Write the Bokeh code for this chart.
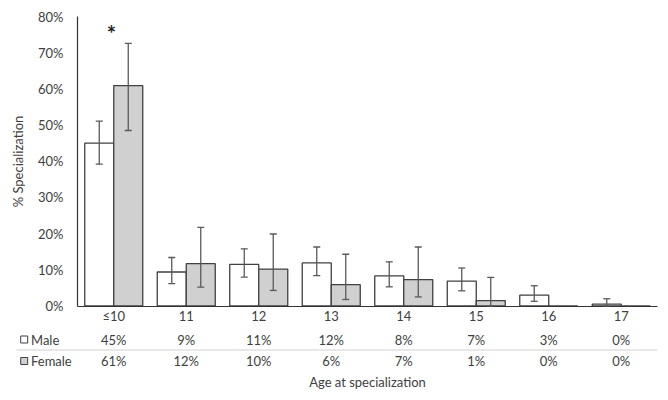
from bokeh.plotting import figure
from bokeh.models import (ColumnDataSource, Range1d, Whisker, TeeHead,
                          Label, FixedTicker, PrintfTickFormatter)
from bokeh.core.properties import value
from bokeh.embed import file_html
from bokeh.resources import INLINE

# ---- data ----
ages = ["≤10", "11", "12", "13", "14", "15", "16", "17"]
male = [45.0, 9.4, 11.5, 11.9, 8.3, 6.9, 3.0, 0.5]
female = [60.9, 11.7, 10.2, 5.9, 7.3, 1.5, 0.0, 0.0]
male_lo = [39.2, 6.2, 8.0, 8.4, 5.3, 4.2, 1.3, 0.0]
male_hi = [51.1, 13.4, 15.8, 16.3, 12.2, 10.5, 5.6, 2.0]
female_lo = [48.5, 5.2, 4.3, 1.8, 2.5, 0.0, None, None]
female_hi = [72.6, 21.7, 19.9, 14.3, 16.3, 7.9, None, None]
male_labels = ["45%", "9%", "11%", "12%", "8%", "7%", "3%", "0%"]
female_labels = ["61%", "12%", "10%", "6%", "7%", "1%", "0%", "0%"]
series_names = ["Male", "Female"]
y_ticks = [0, 10, 20, 30, 40, 50, 60, 70, 80]
Y_MAX = 80

FONT = "Lato"
FS = "13px"
TXT = "#404040"
EDGE = "#404040"
MALE_FILL = "white"
FEMALE_FILL = "#d0d0d0"

# ---- geometry (page pixels) ----
W, H = 660, 392
AX_LEFT, AX_RIGHT = 77, 657     # plot area
AX_TOP, AX_BOTTOM = 16, 305.5
n = len(ages)
xpx = (AX_RIGHT - AX_LEFT) / n
ypx = (AX_BOTTOM - AX_TOP) / Y_MAX

def ux(page_x):
    return (page_x - AX_LEFT) / xpx

def uy(page_y):
    return (AX_BOTTOM - page_y) / ypx

p = figure(width=W, height=H, x_range=Range1d(ux(0), ux(W)), y_range=Range1d(uy(H), uy(0)),
           output_backend="svg", toolbar_location=None,
           min_border=0, min_border_left=0, min_border_right=0,
           min_border_top=0, min_border_bottom=0)
p.outline_line_color = None
p.grid.grid_line_color = None

centers = [i + 0.5 for i in range(n)]
src = ColumnDataSource(dict(xm=[c - 0.2 for c in centers], xf=[c + 0.2 for c in centers],
                            male=male, female=female))
p.vbar(x="xm", top="male", width=0.4, source=src,
       fill_color=MALE_FILL, line_color=EDGE, line_width=1.3)
p.vbar(x="xf", top="female", width=0.4, source=src,
       fill_color=FEMALE_FILL, line_color=EDGE, line_width=1.3)

msrc = ColumnDataSource(dict(x=[c - 0.2 for c in centers], lo=male_lo, hi=male_hi))
fidx = [i for i, v in enumerate(female_hi) if v is not None]
fsrc = ColumnDataSource(dict(x=[centers[i] + 0.2 for i in fidx], lo=[female_lo[i] for i in fidx],
                             hi=[female_hi[i] for i in fidx]))
for s in (msrc, fsrc):
    p.add_layout(Whisker(base="x", lower="lo", upper="hi", source=s,
                         level="overlay", line_color="#5a5a5a", line_width=1.3,
                         upper_head=TeeHead(size=7, line_color="#5a5a5a", line_width=1.3),
                         lower_head=TeeHead(size=7, line_color="#5a5a5a", line_width=1.3)))

# axes, fixed at the data origin
p.yaxis.fixed_location = 0
p.yaxis.bounds = (0, Y_MAX)
p.yaxis.ticker = FixedTicker(ticks=y_ticks)
p.yaxis.formatter = PrintfTickFormatter(format="%d%%")
p.yaxis.major_label_standoff = 14
p.yaxis.axis_label = "% Specialization"
p.yaxis.axis_label_standoff = 9
p.xaxis.fixed_location = 0
p.xaxis.bounds = (0, n)
p.xaxis.ticker = FixedTicker(ticks=centers)
p.xaxis.major_label_overrides = {c: a for c, a in zip(centers, ages)}
p.xaxis.major_label_standoff = 2
for ax in (p.xaxis, p.yaxis):
    ax.axis_line_color = "#333333"
    ax.axis_line_width = 1.2
    ax.major_tick_line_color = None
    ax.minor_tick_line_color = None
    ax.major_tick_out = 0
    ax.major_tick_in = 0
    ax.minor_tick_out = 0
    ax.minor_tick_in = 0
    ax.major_label_text_font = FONT
    ax.major_label_text_font_size = FS
    ax.major_label_text_color = TXT
    ax.axis_label_text_font = FONT
    ax.axis_label_text_font_size = FS
    ax.axis_label_text_font_style = "normal"
    ax.axis_label_text_color = TXT

# significance marker above the ≤10 group
p.add_layout(Label(x=ux(111), y=uy(33), text="*", text_align="center", text_baseline="middle",
                   text_font=FONT, text_font_size="22px", text_font_style="bold",
                   text_color="#222222"))

# ---- data table below the axis ----
rows_y = [uy(339), uy(360.5)]
tsrc = ColumnDataSource(dict(x=centers * 2, y=[rows_y[0]] * n + [rows_y[1]] * n,
                             text=male_labels + female_labels))
p.text(x="x", y="y", text="text", source=tsrc, text_align="center", text_baseline="middle",
       text_font=value(FONT), text_font_size=FS, text_color=TXT)

p.segment(x0=[ux(16)], x1=[n], y0=[uy(349.5)], y1=[uy(349.5)],
          line_color="#e0e0e0", line_width=1.5)

p.rect(x=[ux(23.7)] * 2, y=rows_y, width=7, height=7, width_units="screen",
       height_units="screen", fill_color=[MALE_FILL, FEMALE_FILL], line_color=EDGE, line_width=1)
p.text(x=[ux(30.5)] * 2, y=rows_y, text=series_names, text_align="left",
       text_baseline="middle", text_font=value(FONT), text_font_size=FS, text_color=TXT)

p.text(x=[n / 2], y=[uy(381)], text=["Age at specialization"], text_align="center",
       text_baseline="middle", text_font=value(FONT), text_font_size=FS, text_color=TXT)

open("out.html", "w").write(file_html(p, INLINE))
